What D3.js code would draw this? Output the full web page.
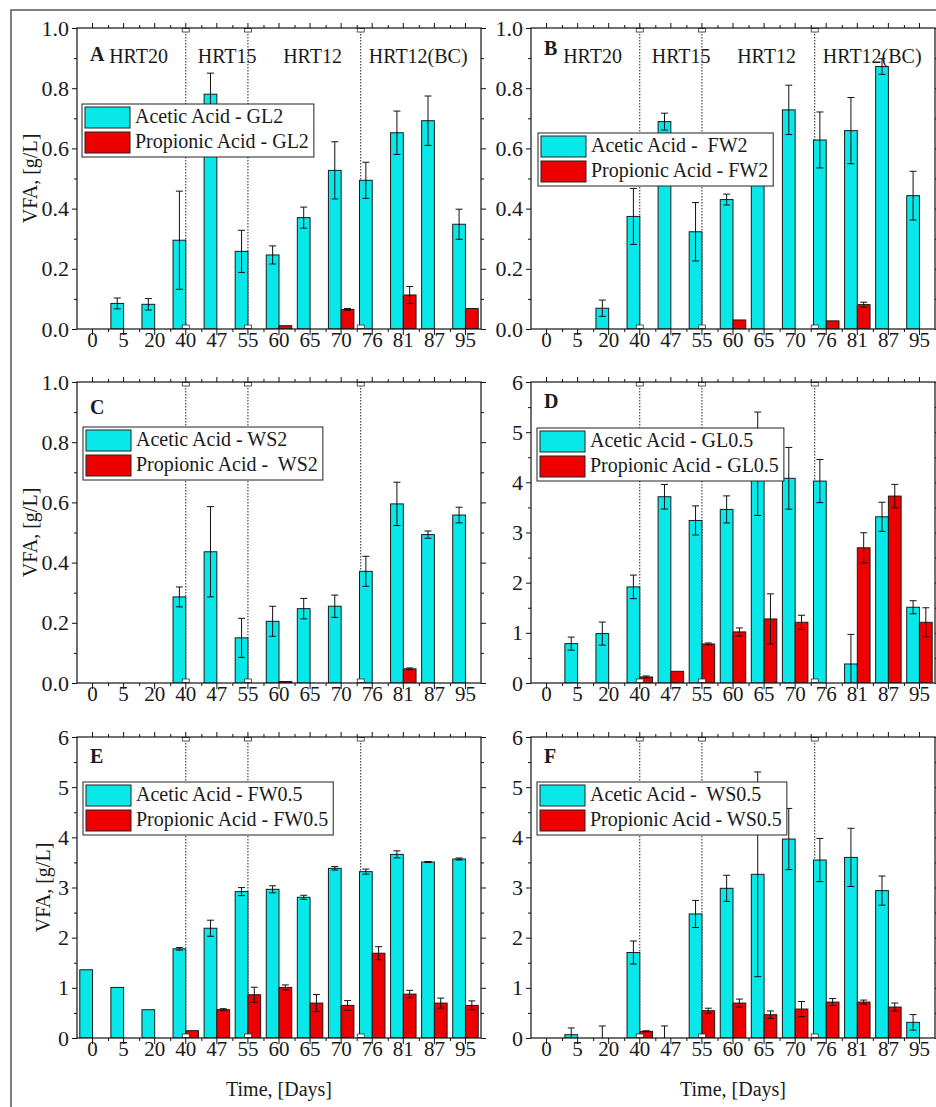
<!DOCTYPE html>
<html>
<head>
<meta charset="utf-8">
<script src="https://cdn.jsdelivr.net/npm/d3@7"></script>
<style>
  body { margin: 0; background: #fff; }
  svg text { font-family: "Liberation Serif", "Times New Roman", serif; font-size: 20px; fill: #1a1a1a; }
</style>
</head>
<body>
<svg width="936" height="1107"></svg>
<script>
const svg = d3.select("svg");

// categories (days)
const days = ["0", "5", "20", "40", "47", "55", "60", "65", "70", "76", "81", "87", "95"];

// HRT period dividers and labels, in category-index units
const dividerAt = [3, 5, 8.63];
const hrtLabels = ["HRT20", "HRT15", "HRT12", "HRT12(BC)"];
const hrtAt = [1.48, 4.33, 7.08, 10.48];

// A - GL2
const aceticGL2 = [null, 0.085, 0.082, 0.295, 0.78, 0.258, 0.246, 0.37, 0.527, 0.494, 0.652, 0.692, 0.348];
const aceticGL2Err = [null, 0.018, 0.019, 0.163, 0.07, 0.07, 0.03, 0.035, 0.095, 0.06, 0.072, 0.082, 0.05];
const propGL2 = [null, null, null, null, null, null, 0.011, null, 0.065, null, 0.113, null, 0.068];
const propGL2Err = [null, null, null, null, null, null, 0, null, 0.003, null, 0.028, null, 0];

// B - FW2
const aceticFW2 = [null, null, 0.069, 0.374, 0.689, 0.323, 0.43, 0.56, 0.728, 0.628, 0.659, 0.872, 0.443];
const aceticFW2Err = [null, null, 0.027, 0.093, 0.028, 0.097, 0.018, 0.05, 0.082, 0.093, 0.11, 0.026, 0.081];
const propFW2 = [null, null, null, null, null, null, 0.03, null, null, 0.027, 0.081, null, null];
const propFW2Err = [null, null, null, null, null, null, 0, null, null, 0, 0.008, null, null];

// C - WS2
const aceticWS2 = [null, null, null, 0.286, 0.436, 0.15, 0.205, 0.247, 0.255, 0.371, 0.595, 0.493, 0.558];
const aceticWS2Err = [null, null, null, 0.033, 0.15, 0.065, 0.05, 0.034, 0.037, 0.05, 0.072, 0.012, 0.026];
const propWS2 = [null, null, null, null, null, null, 0.005, null, null, null, 0.047, null, null];
const propWS2Err = [null, null, null, null, null, null, 0, null, null, null, 0.003, null, null];

// D - GL0.5
const aceticGL05 = [null, 0.785, 0.985, 1.916, 3.713, 3.24, 3.46, 4.37, 4.08, 4.025, 0.379, 3.313, 1.51];
const aceticGL05Err = [null, 0.13, 0.23, 0.235, 0.245, 0.29, 0.27, 1.03, 0.615, 0.43, 0.59, 0.29, 0.13];
const propGL05 = [null, null, null, 0.12, 0.233, 0.778, 1.018, 1.277, 1.21, null, 2.695, 3.726, 1.21];
const propGL05Err = [null, null, null, 0.02, 0, 0.02, 0.08, 0.5, 0.14, null, 0.3, 0.233, 0.29];

// E - FW0.5
const aceticFW05 = [1.36, 1.008, 0.564, 1.777, 2.188, 2.918, 2.964, 2.805, 3.382, 3.316, 3.66, 3.508, 3.568];
const aceticFW05Err = [0, 0, 0, 0.025, 0.16, 0.08, 0.07, 0.04, 0.035, 0.05, 0.07, 0.01, 0.02];
const propFW05 = [null, null, null, 0.146, 0.564, 0.862, 1.008, 0.696, 0.65, 1.69, 0.875, 0.696, 0.65];
const propFW05Err = [null, null, null, 0, 0.02, 0.15, 0.05, 0.17, 0.095, 0.13, 0.075, 0.1, 0.09];

// F - WS0.5
const aceticWS05 = [null, 0.066, 0, 1.704, 0, 2.473, 2.984, 3.263, 3.966, 3.548, 3.6, 2.938, 0.312];
const aceticWS05Err = [null, 0.134, 0.24, 0.23, 0.24, 0.27, 0.26, 2.04, 0.61, 0.43, 0.58, 0.29, 0.155];
const propWS05 = [null, null, null, 0.133, null, 0.544, 0.696, 0.464, 0.577, 0.716, 0.716, 0.617, null];
const propWS05Err = [null, null, null, 0.01, null, 0.05, 0.08, 0.075, 0.15, 0.07, 0.04, 0.08, null];

const cyan = "#08e8e8";
const red = "#ee0000";

const colLeft = [77, 531];
const rowTop = [28, 382, 737];
const W = 404, H = 301;

const panels = [
  { id: "A", col: 0, row: 0, max: 1, ac: aceticGL2, acE: aceticGL2Err, pr: propGL2, prE: propGL2Err,
    legend: ["Acetic Acid - GL2", "Propionic Acid - GL2"], lg: [5, 76], labelDy: 33, hrt: true, yTitleDx: -47 },
  { id: "B", col: 1, row: 0, max: 1, ac: aceticFW2, acE: aceticFW2Err, pr: propFW2, prE: propFW2Err,
    legend: ["Acetic Acid -  FW2", "Propionic Acid - FW2"], lg: [7, 105], labelDy: 27, hrt: true },
  { id: "C", col: 0, row: 1, max: 1, ac: aceticWS2, acE: aceticWS2Err, pr: propWS2, prE: propWS2Err,
    legend: ["Acetic Acid - WS2", "Propionic Acid -  WS2"], lg: [6, 45], labelDy: 32, yTitleDx: -47 },
  { id: "D", col: 1, row: 1, max: 6, ac: aceticGL05, acE: aceticGL05Err, pr: propGL05, prE: propGL05Err,
    legend: ["Acetic Acid - GL0.5", "Propionic Acid - GL0.5"], lg: [6, 46], labelDy: 26 },
  { id: "E", col: 0, row: 2, max: 6, ac: aceticFW05, acE: aceticFW05Err, pr: propFW05, prE: propFW05Err,
    legend: ["Acetic Acid - FW0.5", "Propionic Acid - FW0.5"], lg: [6, 45], labelDy: 26, yTitleDx: -34, xTitle: true },
  { id: "F", col: 1, row: 2, max: 6, ac: aceticWS05, acE: aceticWS05Err, pr: propWS05, prE: propWS05Err,
    legend: ["Acetic Acid -  WS0.5", "Propionic Acid - WS0.5"], lg: [6, 45], labelDy: 26, xTitle: true }
];

// outer frame of the figure
svg.append("path")
  .attr("d", "M11,1107 L11,10 L936,10")
  .attr("fill", "none")
  .attr("stroke", "#555")
  .attr("stroke-width", 1.5);

function styleAxis(sel) {
  sel.select(".domain").remove();
  sel.selectAll("line").attr("stroke", "#111").attr("stroke-width", 1);
}

function drawPanel(p) {
  const left = colLeft[p.col], top = rowTop[p.row];
  const x = d3.scaleBand().domain(days).range([left, left + W]);
  const xi = d3.scaleLinear().domain([-0.5, days.length - 0.5]).range([left, left + W]);
  const y = d3.scaleLinear().domain([0, p.max]).range([top + H, top]);
  const bw = x.bandwidth(), barW = bw * 0.41;

  const g = svg.append("g");
  const clipId = "clip" + p.id;
  g.append("clipPath").attr("id", clipId)
    .append("rect").attr("x", left).attr("y", top).attr("width", W).attr("height", H);

  // HRT dividers
  g.selectAll(".div").data(dividerAt).enter().append("line")
    .attr("x1", d => xi(d)).attr("x2", d => xi(d))
    .attr("y1", top).attr("y2", top + H)
    .attr("stroke", "#222").attr("stroke-width", 1)
    .attr("stroke-dasharray", "1.5 1.5");

  const series = [
    { vals: p.ac, err: p.acE, color: cyan, dx: -barW },
    { vals: p.pr, err: p.prE, color: red, dx: 0 }
  ];

  const plot = g.append("g").attr("clip-path", `url(#${clipId})`);
  series.forEach(s => {
    const rows = days.map((d, i) => ({ day: d, v: s.vals[i], e: s.err[i] })).filter(d => d.v != null);
    plot.append("g").selectAll("rect").data(rows.filter(d => d.v > 0)).enter().append("rect")
      .attr("x", d => x(d.day) + bw / 2 + s.dx)
      .attr("y", d => y(d.v))
      .attr("width", barW)
      .attr("height", d => y(0) - y(d.v))
      .attr("fill", s.color)
      .attr("stroke", "#1a1a1a")
      .attr("stroke-width", 1);

    const eb = plot.append("g").selectAll("g").data(rows.filter(d => d.e > 0)).enter().append("g")
      .attr("stroke", "#111").attr("stroke-width", 1);
    const cx = d => x(d.day) + bw / 2 + s.dx + barW / 2;
    eb.append("line")
      .attr("x1", cx).attr("x2", cx)
      .attr("y1", d => y(d.v - d.e)).attr("y2", d => y(d.v + d.e));
    eb.append("line")
      .attr("x1", d => cx(d) - 3.5).attr("x2", d => cx(d) + 3.5)
      .attr("y1", d => y(d.v + d.e)).attr("y2", d => y(d.v + d.e));
    eb.append("line")
      .attr("x1", d => cx(d) - 3.5).attr("x2", d => cx(d) + 3.5)
      .attr("y1", d => y(d.v - d.e)).attr("y2", d => y(d.v - d.e));
  });

  // small markers at the divider ends
  dividerAt.forEach(d => {
    [top + 0.5, top + H - 4].forEach(yy => {
      g.append("rect")
        .attr("x", xi(d) - 3.5).attr("y", yy)
        .attr("width", 7).attr("height", 3.5)
        .attr("fill", "#fff").attr("stroke", "#333").attr("stroke-width", 0.8);
    });
  });

  // frame
  g.append("rect")
    .attr("x", left).attr("y", top).attr("width", W).attr("height", H)
    .attr("fill", "none").attr("stroke", "#111").attr("stroke-width", 1.2);

  const minorX = d3.range(0.5, days.length - 1, 1);
  const majorY = p.max === 1 ? d3.range(0, 1.01, 0.2) : d3.range(0, 7, 1);
  const minorY = p.max === 1 ? d3.range(0.1, 1, 0.2) : d3.range(0.5, 6, 1);
  const fmt = p.max === 1 ? d3.format(".1f") : d3.format("d");

  // bottom axis
  const bx = g.append("g").attr("transform", `translate(0,${top + H})`)
    .call(d3.axisBottom(x).tickSize(6).tickSizeOuter(0));
  bx.selectAll("text").attr("y", 3).attr("dy", "0.71em").style("font-size", "21px");
  styleAxis(bx);
  styleAxis(g.append("g").attr("transform", `translate(0,${top + H})`)
    .call(d3.axisBottom(xi).tickValues(minorX).tickSize(3).tickFormat("")));
  // top axis
  styleAxis(g.append("g").attr("transform", `translate(0,${top})`)
    .call(d3.axisTop(x).tickSize(5).tickSizeOuter(0).tickFormat("")));
  styleAxis(g.append("g").attr("transform", `translate(0,${top})`)
    .call(d3.axisTop(xi).tickValues(minorX).tickSize(3).tickFormat("")));
  // left axis
  const ly = g.append("g").attr("transform", `translate(${left},0)`)
    .call(d3.axisLeft(y).tickValues(majorY).tickSize(5).tickPadding(3).tickFormat(fmt));
  ly.selectAll("text").style("font-size", "22px");
  styleAxis(ly);
  styleAxis(g.append("g").attr("transform", `translate(${left},0)`)
    .call(d3.axisLeft(y).tickValues(minorY).tickSize(3).tickFormat("")));
  // right axis
  styleAxis(g.append("g").attr("transform", `translate(${left + W},0)`)
    .call(d3.axisRight(y).tickValues(majorY).tickSize(5).tickFormat("")));
  styleAxis(g.append("g").attr("transform", `translate(${left + W},0)`)
    .call(d3.axisRight(y).tickValues(minorY).tickSize(3).tickFormat("")));

  // legend
  const lgX = left + p.lg[0], lgY = top + p.lg[1];
  const lg = g.append("g");
  const box = lg.append("rect")
    .attr("x", lgX).attr("y", lgY).attr("height", 53)
    .attr("fill", "#fff").attr("stroke", "#222").attr("stroke-width", 1);
  let maxW = 0;
  [cyan, red].forEach((c, i) => {
    lg.append("rect")
      .attr("x", lgX + 3).attr("y", lgY + 3 + i * 25)
      .attr("width", 45).attr("height", 21)
      .attr("fill", c).attr("stroke", "#222").attr("stroke-width", 1);
    const t = lg.append("text")
      .attr("x", lgX + 53).attr("y", lgY + 19 + i * 25)
      .attr("xml:space", "preserve")
      .style("white-space", "pre")
      .text(p.legend[i]);
    maxW = Math.max(maxW, t.node().getComputedTextLength());
  });
  box.attr("width", maxW + 58);

  // panel letter
  g.append("text")
    .attr("x", left + 13).attr("y", top + p.labelDy)
    .style("font-weight", "bold")
    .text(p.id);

  if (p.hrt) {
    g.selectAll(".hrt").data(hrtLabels).enter().append("text")
      .attr("x", (d, i) => xi(hrtAt[i]))
      .attr("y", top + 35)
      .attr("text-anchor", "middle")
      .text(d => d);
  }

  if (p.yTitleDx !== undefined) {
    const tx = left + p.yTitleDx, ty = top + H / 2;
    g.append("text")
      .attr("transform", `translate(${tx},${ty}) rotate(-90)`)
      .attr("text-anchor", "middle")
      .attr("dy", "0.35em")
      .text("VFA, [g/L]");
  }

  if (p.xTitle) {
    g.append("text")
      .attr("x", left + W / 2).attr("y", top + H + 58)
      .attr("text-anchor", "middle")
      .text("Time, [Days]");
  }
}

panels.forEach(drawPanel);
</script>
</body>
</html>
